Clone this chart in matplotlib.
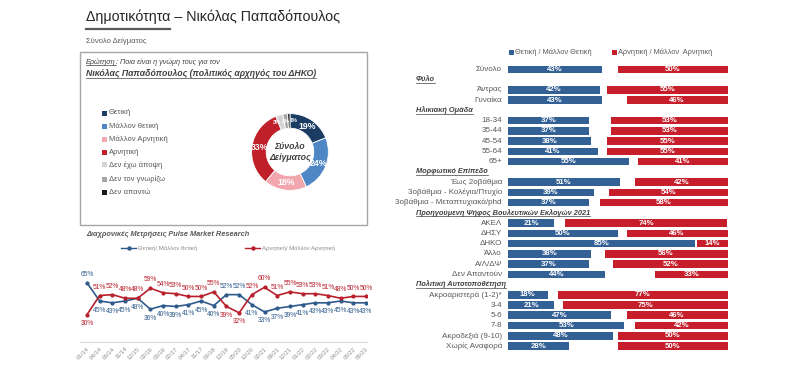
import matplotlib
matplotlib.use("Agg")
import matplotlib.pyplot as plt
from matplotlib.patches import Rectangle
from matplotlib.lines import Line2D
import matplotlib.transforms as mtrans

plt.rcParams['font.family'] = ['Liberation Sans', 'DejaVu Sans']

# ---------------- data ----------------
title = "Δημοτικότητα – Νικόλας Παπαδόπουλος"
subtitle = "Σύνολο Δείγματος"

donut_labels = ["Θετική", "Μάλλον θετική", "Μάλλον Αρνητική", "Αρνητική",
                "Δεν έχω άποψη", "Δεν τον γνωρίζω", "Δεν απαντώ"]
donut_values = [19, 24, 18, 33, 3, 2, 1]
donut_colors = ["#1c3d63", "#4f86c6", "#f2a6ae", "#c0202a", "#d4d4d4", "#a6a6a6", "#1a1a1a"]

trend_dates = ["01/14", "04/14", "05/14", "11/14", "12/15", "02/16", "03/16", "02/17",
               "04/17", "11/17", "03/18", "12/19", "05/20", "12/20", "02/21", "09/21",
               "12/21", "01/22", "02/22", "03/22", "04/22", "05/22", "06/23"]
trend_pos = [65, 45, 43, 45, 48, 36, 40, 39, 41, 45, 40, 52, 52, 41, 33, 37, 39, 41, 43, 43, 45, 43, 43]
trend_neg = [30, 51, 52, 48, 48, 59, 54, 53, 50, 50, 55, 39, 32, 52, 60, 51, 55, 53, 53, 51, 48, 50, 50]

groups = [
    (None, ["Σύνολο"], [43], [50]),
    ("Φύλο", ["Άντρας", "Γυναίκα"], [42, 43], [55, 46]),
    ("Ηλικιακή Ομάδα", ["18-34", "35-44", "45-54", "55-64", "65+"],
     [37, 37, 38, 41, 55], [53, 53, 55, 55, 41]),
    ("Μορφωτικό Επίπεδο", ["Έως 2οβάθμια", "3οβάθμια - Κολέγια/Πτυχίο", "3οβάθμια - Μεταπτυχιακά/phd"],
     [51, 39, 37], [42, 54, 58]),
    ("Προηγούμενη Ψήφος Βουλευτικών Εκλογών 2021",
     ["ΑΚΕΛ", "ΔΗΣΥ", "ΔΗΚΟ", "Άλλο", "Α/Λ/ΔΨ", "Δεν Απαντούν"],
     [21, 50, 85, 38, 37, 44], [74, 46, 14, 56, 52, 33]),
    ("Πολιτική Αυτοτοποθέτηση",
     ["Ακροαριστερά (1-2)*", "3-4", "5-6", "7-8", "Ακροδεξιά (9-10)", "Χωρίς Αναφορά"],
     [18, 21, 47, 53, 48, 28], [77, 75, 46, 42, 50, 50]),
]

BLUE_BAR = "#336195"
RED_BAR = "#c61f2b"
BLUE_LINE = "#2f5b8c"
RED_LINE = "#b8202d"
GRAY = "#595959"
DARK = "#404040"

W, H = 800, 372
fig = plt.figure(figsize=(8, 3.72), dpi=100)
fig.patch.set_facecolor("white")


def fx(x):
    return x / W


def fy(y):
    return 1 - y / H


def ftext(x, y, s, **kw):
    return fig.text(fx(x), fy(y), s, **kw)


underlined = []

# ---------------- header ----------------
ftext(86, 17, title, fontsize=10.3, color="#262626", va="center", ha="left")
fig.add_artist(Line2D([fx(86), fx(170)], [fy(29), fy(29)], color="#595959", lw=1.6))
ftext(86, 41, subtitle, fontsize=5.5, color=GRAY, va="center")

# box
fig.add_artist(Rectangle((fx(80), fy(225)), fx(367) - fx(80), fy(52) - fy(225),
                         fill=False, edgecolor="#a6a6a6", lw=1.0))

t_q = ftext(86, 62, "Ερώτηση", fontsize=5.2, style="italic", color=DARK, va="center")
underlined.append((t_q, DARK))
t_q_rest = ftext(86, 62, ": Ποια είναι η γνώμη τους για τον", fontsize=5.2,
                 style="italic", color=DARK, va="center")
t_name = ftext(86, 74, "Νικόλας Παπαδόπουλος (πολιτικός αρχηγός του ΔΗΚΟ)", fontsize=6.3,
               style="italic", weight="bold", color=DARK, va="center")
underlined.append((t_name, DARK))

# donut legend
leg_y = [113, 126, 139, 152, 165, 179, 192]
for lab, col, yy in zip(donut_labels, donut_colors, leg_y):
    fig.add_artist(Rectangle((fx(102), fy(yy + 2.5)), fx(5) - fx(0), fy(0) - fy(5),
                             facecolor=col, edgecolor="none"))
    ftext(109, yy, lab, fontsize=5.5, color=GRAY, va="center")

# donut
cx, cy, R = 290, 152, 48
axd = fig.add_axes([fx(cx - R), fy(cy + R), 2 * R / W, 2 * R / H])
wedges, texts, autotexts = axd.pie(
    donut_values, colors=donut_colors, startangle=90, counterclock=False,
    wedgeprops=dict(width=0.38, edgecolor="white", linewidth=0.6),
    autopct=lambda p: f"{p:.0f}%", pctdistance=0.81,
    textprops=dict(color="white", fontsize=6.3, weight="bold"))
# small slices: smaller labels, nudged so they sit side by side along the ring
small_offsets = {4: (-0.12, 0.0), 5: (0.0, 0.0), 6: (0.12, 0.0)}
for i, at in enumerate(autotexts):
    if donut_values[i] < 5:
        at.set_fontsize(4.0)
        x, y = at.get_position()
        dx, dy = small_offsets[i]
        at.set_position((x + dx, y + dy))
axd.set_aspect("equal")
axd.text(0, 0, "Σύνολο\nΔείγματος", ha="center", va="center", fontsize=6.3,
         style="italic", weight="bold", color=DARK, linespacing=1.3)

# ---------------- trend line chart ----------------
ftext(86, 234, "Διαχρονικές Μετρήσεις Pulse Market Research", fontsize=5.3,
      style="italic", weight="bold", color=GRAY, va="center")

# legend
for (x0, lab, col) in [(121, "Θετική/ Μάλλον θετική", BLUE_LINE),
                       (245, "Αρνητική/ Μάλλον Αρνητική", RED_LINE)]:
    fig.add_artist(Line2D([fx(x0), fx(x0 + 15)], [fy(248), fy(248)], color=col, lw=1.0))
    fig.add_artist(Line2D([fx(x0 + 7.5)], [fy(248)], color=col, marker="o", markersize=2.2))
    ftext(x0 + 17, 248, lab, fontsize=4.3, color="#8c8c8c", va="center")

axl = fig.add_axes([fx(80), fy(342), fx(367) - fx(80), fy(260) - fy(342)])
xs = list(range(len(trend_dates)))
axl.plot(xs, trend_pos, color=BLUE_LINE, lw=1.2, marker="o", markersize=2.0)
axl.plot(xs, trend_neg, color=RED_LINE, lw=1.2, marker="o", markersize=2.0)
axl.set_xlim(-0.55, 22.08)
axl.set_ylim(0, 90)
for x, p, n in zip(xs, trend_pos, trend_neg):
    p_up = p > n
    axl.annotate(f"{p}%", (x, p), xytext=(0, 6 if p_up else -6.5), textcoords="offset points",
                 ha="center", va="center", fontsize=4.8, color=BLUE_LINE)
    axl.annotate(f"{n}%", (x, n), xytext=(0, -6.5 if p_up else 6), textcoords="offset points",
                 ha="center", va="center", fontsize=4.8, color=RED_LINE)
axl.set_xticks(xs)
axl.set_xticklabels(trend_dates, rotation=45, ha="right", rotation_mode="anchor",
                    fontsize=4.3, color="#8c8c8c")
axl.tick_params(axis="x", length=0, pad=3)
axl.set_yticks([])
for s in ["top", "right", "left"]:
    axl.spines[s].set_visible(False)
axl.spines["bottom"].set_color("#d9d9d9")
axl.spines["bottom"].set_linewidth(0.8)
axl.patch.set_alpha(0)

# ---------------- right bar chart ----------------
rows = []  # (slot, kind, label, pos, neg)
slot = 0
for head, cats, pos, neg in groups:
    if head is not None:
        rows.append((slot, "head", head, None, None))
        slot += 1
    for c, p, n in zip(cats, pos, neg):
        rows.append((slot, "cat", c, p, n))
        slot += 1
nslots = slot

y_first, y_last = 69.5, 346.0
step = (y_last - y_first) / (nslots - 1)
axb = fig.add_axes([fx(508), fy(y_last + step / 2), fx(727.5) - fx(508),
                    fy(y_first - step / 2) - fy(y_last + step / 2)])
axb.set_xlim(0, 100)
axb.set_ylim(nslots - 0.5, -0.5)
axb.axis("off")

bh = 0.74
trans_head = mtrans.blended_transform_factory(fig.transFigure, axb.transData)
for s, kind, lab, p, n in rows:
    if kind == "head":
        t = axb.text(fx(416), s, lab, transform=trans_head, fontsize=5.3, style="italic",
                     weight="bold", color=DARK, va="center", ha="left")
        underlined.append((t, DARK))
        continue
    axb.barh(s, p, left=0, height=bh, color=BLUE_BAR, edgecolor="none")
    axb.barh(s, n, left=100 - n, height=bh, color=RED_BAR, edgecolor="none")
    axb.text(p / 2, s, f"{p}%", ha="center", va="center", fontsize=5.6, weight="bold",
             color="white")
    axb.text(100 - n / 2, s, f"{n}%", ha="center", va="center", fontsize=5.6, weight="bold",
             color="white")
    axb.text(fx(502), s, lab, transform=trans_head, ha="right", va="center", fontsize=5.8,
             color=GRAY)

# bar legend
for x0, lab, col in [(509, "Θετική / Μάλλον Θετική", BLUE_BAR),
                     (612, "Αρνητική / Μάλλον  Αρνητική", RED_BAR)]:
    fig.add_artist(Rectangle((fx(x0), fy(54.5)), fx(5) - fx(0), fy(0) - fy(5),
                             facecolor=col, edgecolor="none"))
    ftext(x0 + 6, 52, lab, fontsize=5.3, color=GRAY, va="center")

# ---------------- underlines ----------------
fig.canvas.draw()
renderer = fig.canvas.get_renderer()
inv = fig.transFigure.inverted()
bbq = t_q.get_window_extent(renderer)
x_end = inv.transform((bbq.x1, bbq.y0))[0]
t_q_rest.set_x(x_end)
for t, col in underlined:
    bb = t.get_window_extent(renderer)
    (x0, y0), (x1, _) = inv.transform([(bb.x0, bb.y0), (bb.x1, bb.y1)])
    fig.add_artist(Line2D([x0, x1], [y0 + 0.6 / H, y0 + 0.6 / H], color=col, lw=0.5))

fig.savefig("out.png", dpi=100, facecolor="white")
